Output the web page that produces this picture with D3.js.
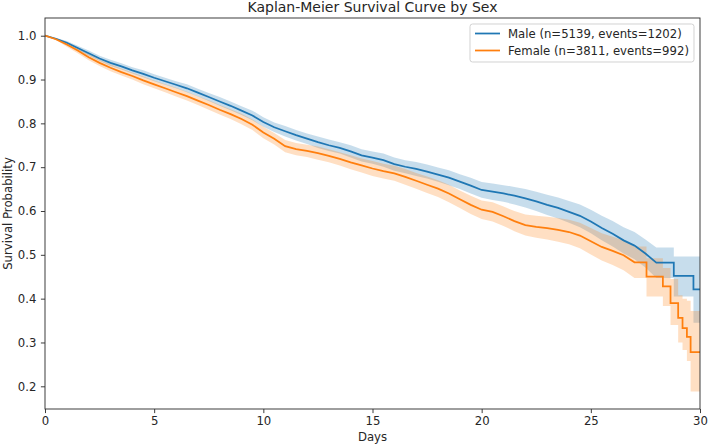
<!DOCTYPE html>
<html>
<head>
<meta charset="utf-8">
<script src="https://cdn.jsdelivr.net/npm/d3@7"></script>
<style>
  html, body { margin: 0; padding: 0; background: #fff; }
  svg { display: block; font-family: "DejaVu Sans", sans-serif; }
</style>
</head>
<body>
<svg id="chart" width="708" height="445"></svg>
<script>
const title = "Kaplan-Meier Survival Curve by Sex";
const xLabel = "Days";
const yLabel = "Survival Probability";
const xTicks = [0, 5, 10, 15, 20, 25, 30];
const yTicks = [0.2, 0.3, 0.4, 0.5, 0.6, 0.7, 0.8, 0.9, 1.0];
const seriesNames = ["Male (n=5139, events=1202)", "Female (n=3811, events=992)"];
const seriesColors = ["#1f77b4", "#ff7f0e"];

// Survival estimates (dense many-small-step part, then the large late steps)
const maleDays = [0,0.5,1,1.5,2,2.5,3,3.5,4,4.5,5,5.5,6,6.5,7,7.5,8,8.5,9,9.5,10,10.5,11,11.5,12,12.5,13,13.5,14,14.5,15,15.5,16,16.5,17,17.5,18,18.5,19,19.5,20,20.5,21,21.5,22,22.5,23,23.5,24,24.5,25,25.5,26,26.5,27,27.5,28,28.8,29.7,30];
const maleStepFrom = 28;
const maleSurv = [1.000,0.993,0.984,0.972,0.960,0.948,0.938,0.930,0.921,0.913,
  0.904,0.896,0.888,0.880,0.870,0.860,0.850,0.840,0.829,0.818,
  0.803,0.791,0.782,0.773,0.765,0.757,0.750,0.744,0.736,0.727,
  0.722,0.716,0.707,0.701,0.696,0.690,0.683,0.676,0.667,0.658,
  0.648,0.644,0.640,0.635,0.629,0.622,0.614,0.607,0.598,0.589,
  0.576,0.561,0.548,0.533,0.521,0.503,0.482,0.452,0.421,0.421];
const maleLower = [1.000,0.991,0.980,0.967,0.954,0.942,0.931,0.923,0.914,0.905,
  0.896,0.888,0.880,0.871,0.861,0.851,0.840,0.830,0.819,0.807,
  0.792,0.780,0.770,0.761,0.753,0.744,0.737,0.731,0.722,0.713,
  0.708,0.701,0.692,0.686,0.680,0.674,0.667,0.659,0.650,0.640,
  0.630,0.625,0.621,0.615,0.608,0.600,0.591,0.583,0.573,0.563,
  0.549,0.533,0.519,0.503,0.490,0.471,0.447,0.405,0.345,0.345];
const maleUpper = [1.000,0.995,0.988,0.977,0.966,0.954,0.945,0.937,0.928,0.921,
  0.912,0.904,0.896,0.889,0.879,0.869,0.860,0.850,0.839,0.829,
  0.814,0.802,0.794,0.785,0.777,0.770,0.763,0.757,0.750,0.741,
  0.736,0.731,0.722,0.716,0.712,0.706,0.699,0.693,0.684,0.676,
  0.666,0.663,0.659,0.655,0.650,0.644,0.637,0.631,0.623,0.615,
  0.603,0.589,0.577,0.563,0.552,0.535,0.517,0.496,0.496,0.496];

const femaleDays = [0,0.5,1,1.5,2,2.5,3,3.5,4,4.5,5,5.5,6,6.5,7,7.5,8,8.5,9,9.5,10,10.5,11,11.5,12,12.5,13,13.5,14,14.5,15,15.5,16,16.5,17,17.5,18,18.5,19,19.5,20,20.5,21,21.5,22,22.5,23,23.5,24,24.5,25,25.5,26,26.5,27,27.55,28.3,28.65,29.0,29.2,29.4,29.57,30];
const femaleStepFrom = 27;
const femaleSurv = [1.000,0.992,0.980,0.966,0.951,0.938,0.927,0.917,0.908,0.898,
  0.889,0.880,0.871,0.862,0.852,0.842,0.831,0.821,0.810,0.797,
  0.779,0.765,0.748,0.741,0.737,0.732,0.726,0.719,0.711,0.704,
  0.697,0.691,0.686,0.678,0.669,0.660,0.651,0.640,0.627,0.614,
  0.603,0.598,0.588,0.577,0.568,0.564,0.561,0.557,0.552,0.544,
  0.531,0.518,0.509,0.499,0.483,0.450,0.428,0.390,0.356,0.333,
  0.313,0.278,0.278];
const femaleLower = [1.000,0.990,0.975,0.960,0.944,0.931,0.919,0.909,0.900,0.889,
  0.880,0.871,0.861,0.852,0.842,0.831,0.820,0.810,0.798,0.785,
  0.766,0.752,0.734,0.727,0.723,0.717,0.711,0.704,0.695,0.688,
  0.680,0.674,0.669,0.660,0.651,0.641,0.632,0.620,0.607,0.593,
  0.582,0.576,0.566,0.554,0.544,0.539,0.535,0.530,0.524,0.515,
  0.501,0.487,0.477,0.465,0.447,0.405,0.383,0.340,0.300,0.283,
  0.258,0.188,0.188];
const femaleUpper = [1.000,0.994,0.985,0.972,0.958,0.945,0.935,0.925,0.916,0.907,
  0.898,0.889,0.881,0.872,0.862,0.853,0.842,0.832,0.822,0.809,
  0.792,0.778,0.762,0.755,0.751,0.747,0.741,0.734,0.727,0.720,
  0.714,0.708,0.703,0.696,0.687,0.679,0.670,0.660,0.647,0.635,
  0.624,0.620,0.610,0.600,0.592,0.589,0.587,0.584,0.580,0.573,
  0.561,0.549,0.541,0.533,0.519,0.492,0.470,0.445,0.408,0.400,
  0.395,0.372,0.372];

const series = [
  { name: seriesNames[0], color: seriesColors[0], days: maleDays, stepFrom: maleStepFrom, surv: maleSurv, lo: maleLower, hi: maleUpper },
  { name: seriesNames[1], color: seriesColors[1], days: femaleDays, stepFrom: femaleStepFrom, surv: femaleSurv, lo: femaleLower, hi: femaleUpper }
];

// Build points: dense section joined directly, late section drawn as steps
function buildPoints(s) {
  const pts = [];
  s.days.forEach((t, i) => {
    if (i > 0 && t > s.stepFrom) {
      pts.push({ t: t, v: s.surv[i - 1], lo: s.lo[i - 1], hi: s.hi[i - 1] });
    }
    pts.push({ t: t, v: s.surv[i], lo: s.lo[i], hi: s.hi[i] });
  });
  return pts;
}

const svg = d3.select("#chart");
const plot = { left: 45, right: 700, top: 18, bottom: 409 };
const x = d3.scaleLinear().domain([0, 30]).range([plot.left, plot.right]);
const y = d3.scaleLinear().domain([0.1482, 1.0404]).range([plot.bottom, plot.top]);

svg.append("defs").append("clipPath").attr("id", "clip")
  .append("rect").attr("x", plot.left).attr("y", plot.top)
  .attr("width", plot.right - plot.left).attr("height", plot.bottom - plot.top);

const g = svg.append("g").attr("clip-path", "url(#clip)");

series.forEach(s => {
  const pts = buildPoints(s);
  const area = d3.area().x(d => x(d.t)).y0(d => y(d.lo)).y1(d => y(d.hi));
  g.append("path").datum(pts).attr("d", area)
    .attr("fill", s.color).attr("fill-opacity", 0.25).attr("stroke", "none");
});
series.forEach(s => {
  const pts = buildPoints(s);
  const line = d3.line().x(d => x(d.t)).y(d => y(d.v));
  g.append("path").datum(pts).attr("d", line)
    .attr("fill", "none").attr("stroke", s.color).attr("stroke-width", 1.75)
    .attr("stroke-linejoin", "miter");
});

// frame
svg.append("rect").attr("x", plot.left).attr("y", plot.top)
  .attr("width", plot.right - plot.left).attr("height", plot.bottom - plot.top)
  .attr("fill", "none").attr("stroke", "#333").attr("stroke-width", 0.95);

const xAxis = svg.append("g").attr("transform", `translate(0,${plot.bottom})`)
  .call(d3.axisBottom(x).tickValues(xTicks).tickFormat(d3.format("d")).tickSize(4.1).tickPadding(3.5));
const yAxis = svg.append("g").attr("transform", `translate(${plot.left},0)`)
  .call(d3.axisLeft(y).tickValues(yTicks).tickFormat(d3.format(".1f")).tickSize(4.1).tickPadding(4.5));
[xAxis, yAxis].forEach(a => {
  a.select(".domain").remove();
  a.selectAll(".tick line").attr("stroke", "#333").attr("stroke-width", 0.95);
  a.selectAll(".tick text").attr("fill", "#262626").style("font-size", "11.7px").style("font-family", "DejaVu Sans");
});

svg.append("text").attr("x", (plot.left + plot.right) / 2).attr("y", 12)
  .attr("text-anchor", "middle").style("font-size", "14px").attr("fill", "#262626").text(title);
svg.append("text").attr("x", (plot.left + plot.right) / 2).attr("y", 441)
  .attr("text-anchor", "middle").style("font-size", "11.7px").attr("fill", "#262626").text(xLabel);
svg.append("text").attr("transform", `translate(11.5,${(plot.top + plot.bottom) / 2}) rotate(-90)`)
  .attr("text-anchor", "middle").style("font-size", "11.7px").attr("fill", "#262626").text(yLabel);

// legend
const lg = svg.append("g");
lg.append("rect").attr("x", 470).attr("y", 24).attr("width", 224).attr("height", 38).attr("rx", 2.5)
  .attr("fill", "#fff").attr("fill-opacity", 0.8).attr("stroke", "#d0d0d0").attr("stroke-width", 0.95);
series.forEach((s, i) => {
  const cy = 33.5 + i * 17;
  lg.append("line").attr("x1", 475).attr("x2", 500).attr("y1", cy).attr("y2", cy)
    .attr("stroke", s.color).attr("stroke-width", 1.75);
  lg.append("text").attr("x", 508).attr("y", cy + 4.2).style("font-size", "11.7px")
    .attr("fill", "#262626").text(s.name);
});
</script>
</body>
</html>
